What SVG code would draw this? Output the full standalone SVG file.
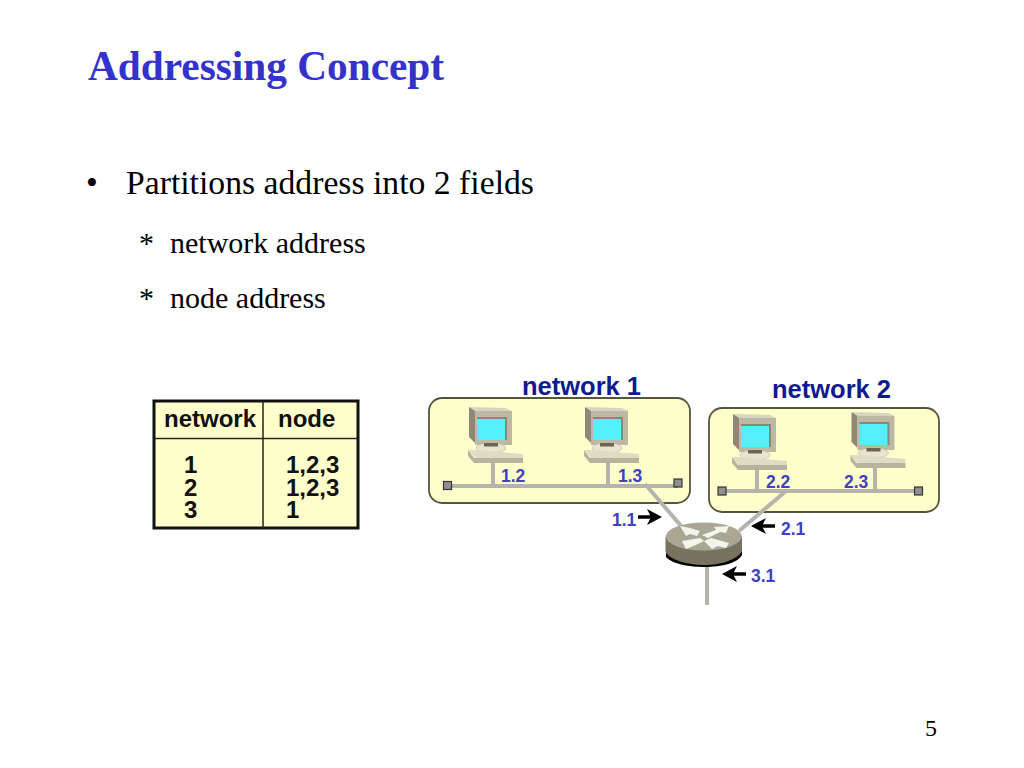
<svg xmlns="http://www.w3.org/2000/svg" width="1024" height="768" viewBox="0 0 1024 768">
<style>
.t{font-family:"Liberation Serif","Times New Roman",serif;fill:#000}
.s{font-family:"Liberation Sans",Arial,sans-serif;font-weight:bold}
.nw{font-size:25.500px;fill:#0f1a8c}
.ad{font-size:17.500px;fill:#4040c0}
.tb{font-size:24px;fill:#111}
.panel{fill:#ffffcc;stroke:#55553f;stroke-width:1.800}
.wire{stroke:#b4b4ac;stroke-width:4;fill:none}
.end{fill:#8f8f8f;stroke:#333;stroke-width:1.200}
.ar{stroke:#000;stroke-width:3.500;fill:none}
.ah{fill:#000}
</style>
<defs>
<g id="pc">
<polygon points="0,0 6,3 6,36 0,30" fill="#8f8676"/>
<polygon points="0,0 37,1 43,4 6,4" fill="#d8d4c0"/>
<rect x="6" y="4" width="37" height="34" fill="#bdb8a4"/>
<rect x="8" y="10" width="30" height="23" fill="#55eeff"/>
<path d="M8,10H38V33H36V12H8Z" fill="#8a8678"/>
<ellipse cx="22" cy="41" rx="15" ry="5" fill="#e8e4d0" stroke="#c8c4b0" stroke-width=".8"/>
<rect x="15" y="36" width="14" height="3.500" fill="#6e6450"/>
<polygon points="-1,43 5,51 54,51 54,56 5,56 -1,49" fill="#b8b39c"/>
<polygon points="-1,43 9,43 54,47 54,51 6,51" fill="#dfdbc5"/>
</g>
<g id="arr"><path class="ar" d="M0,0H16"/><polygon class="ah" points="24,0 9,-8 13,0 9,8"/></g>
</defs>
<text class="t" x="88" y="80" font-size="41.300" font-weight="bold" style="fill:#3333cc">Addressing Concept</text>
<text class="t" x="86" y="194" font-size="33.700">•</text>
<text class="t" x="126" y="194" font-size="33.700">Partitions address into 2 fields</text>
<text class="t" x="139" y="253" font-size="30">*</text>
<text class="t" x="170" y="253" font-size="30">network address</text>
<text class="t" x="139" y="308" font-size="30">*</text>
<text class="t" x="170" y="308" font-size="30">node address</text>
<text class="t" x="925" y="736" font-size="24">5</text>

<g id="table">
<rect x="154" y="401" width="204" height="127" fill="#ffffcc" stroke="#111" stroke-width="3"/>
<path d="M263,401V528M154,438.500H358" stroke="#222" stroke-width="1.500" fill="none"/>
<text class="s tb" x="164" y="427">network</text>
<text class="s tb" x="278" y="427">node</text>
<text class="s tb" y="473"><tspan x="184">1</tspan><tspan x="184" dy="22.500">2</tspan><tspan x="184" dy="22.500">3</tspan></text>
<text class="s tb" y="473"><tspan x="286">1,2,3</tspan><tspan x="286" dy="22.500">1,2,3</tspan><tspan x="286" dy="22.500">1</tspan></text>
</g>

<g id="network1">
<rect class="panel" x="429" y="398" width="261" height="105" rx="13"/>
<text class="s nw" x="522" y="395">network 1</text>
</g>
<g id="network2">
<rect class="panel" x="709" y="408" width="230" height="104" rx="13"/>
<text class="s nw" x="772" y="398">network 2</text>
</g>

<g id="connectors">
<path class="wire" d="M447,486H678M493,463V486M608,463V486"/>
<path class="wire" d="M722,491H918M757,470V491M875,468V491"/>
<path class="wire" d="M645,484L682,527M786,491L739,531M707,565V605"/>
<use href="#arr" x="638" y="517"/>
<use href="#arr" transform="translate(775,526) scale(-1,1)"/>
<use href="#arr" transform="translate(746,574) scale(-1,1)"/>
</g>

<g id="pc1"><use href="#pc" x="469" y="407"/><text class="s ad" x="501" y="482">1.2</text></g>
<g id="pc2"><use href="#pc" x="585" y="407"/><text class="s ad" x="618" y="482">1.3</text></g>
<g id="pc3"><use href="#pc" x="733" y="414"/><text class="s ad" x="766" y="488">2.2</text></g>
<g id="pc4"><use href="#pc" x="851.500" y="412"/><text class="s ad" x="844" y="488">2.3</text></g>
<rect class="end" x="443.500" y="481.500" width="8" height="8"/>
<rect class="end" x="674" y="479" width="8" height="8"/>
<rect class="end" x="718" y="487" width="8" height="8"/>
<rect class="end" x="914.500" y="487" width="8" height="8"/>

<g id="router">
<path d="M666,540V557C672,564 690,567 704,567C722,567 738,563 742,555V540Z" fill="#000"/>
<path d="M665.500,537V552C670,560 688,565 704,565C722,565 738,559 742,551V537Z" fill="#77735f"/>
<ellipse cx="703.800" cy="536.500" rx="38" ry="14" fill="#a9a794"/>
<g fill="#f4f4ec">
<polygon points="680,526 690,528 700,531 697,536 690,534 686,536"/>
<polygon points="702,535 716,530 714,527 729,526 726,533 720,532 708,538"/>
<polygon points="682,541 700,538 704,541 696,545 686,549"/>
<polygon points="704,541 711,538 729,543 726,548 718,546 712,549"/>
</g>
</g>
<text class="s ad" x="612" y="526">1.1</text>
<text class="s ad" x="781" y="535">2.1</text>
<text class="s ad" x="751" y="582">3.1</text>
</svg>
